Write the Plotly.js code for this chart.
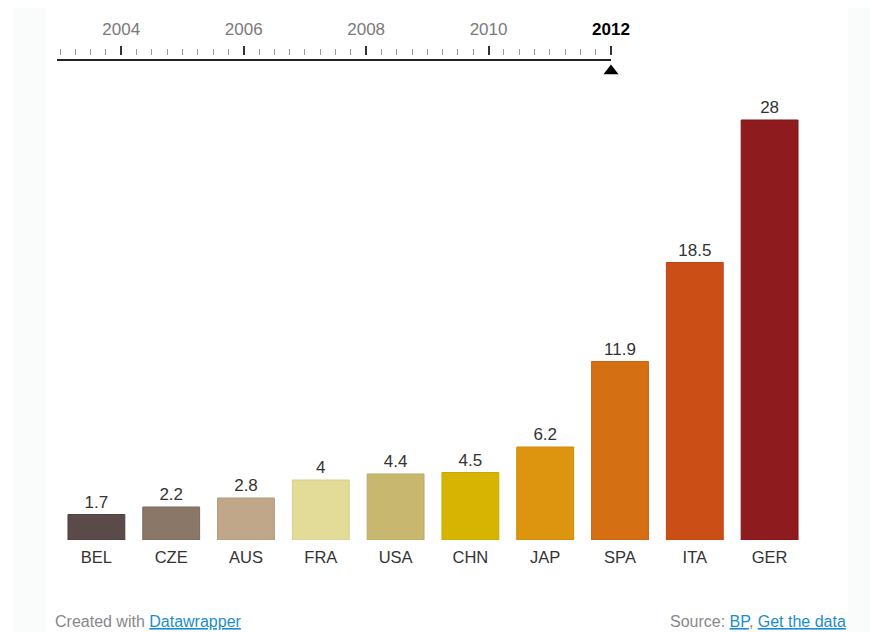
<!DOCTYPE html>
<html>
<head>
<meta charset="utf-8">
<script src="https://cdn.plot.ly/plotly-3.0.1.min.js"></script>
<style>
  html, body { margin: 0; padding: 0; background: #ffffff; }
  #bandL { position: absolute; left: 13px; top: 8px; width: 33px; height: 624px; background: #fafbfb; }
  #bandR { position: absolute; left: 848px; top: 8px; width: 22px; height: 624px; background: #fafbfb; }
  #chart { position: absolute; left: 0; top: 0; width: 870px; height: 632px; }
</style>
</head>
<body>
<div id="bandL"></div>
<div id="bandR"></div>
<div id="chart"></div>
<script>
// ---- data ----
const countries = ["BEL", "CZE", "AUS", "FRA", "USA", "CHN", "JAP", "SPA", "ITA", "GER"];
const values2012 = [1.7, 2.2, 2.8, 4, 4.4, 4.5, 6.2, 11.9, 18.5, 28];
const barColors = ["#5a4a4a", "#8a7767", "#c0a789", "#e3db98", "#c8b86f", "#d7b302", "#dd940f", "#d56f13", "#cc4e17", "#8e1b1e"];
const barLines  = ["#4e4040", "#7c6b5c", "#b39a7c", "#d6ce8a", "#bbab63", "#c9a600", "#d08809", "#c8640e", "#bf4412", "#7f1518"];
const years = [2004, 2006, 2008, 2010, 2012];
const yearLabels = ["2004", "2006", "2008", "2010", "2012"];
const timelineRange = [2002.95, 2012];
const selectedYear = 2012;

const fontFam = '"Liberation Sans", Arial, Helvetica, sans-serif';

const bars = {
  type: "bar",
  x: countries,
  y: values2012,
  text: values2012.map(String),
  textposition: "outside",
  textfont: { family: fontFam, size: 17, color: "#333333" },
  cliponaxis: false,
  marker: { color: barColors, line: { color: barLines, width: 1 } },
  hoverinfo: "x+y",
  xaxis: "x",
  yaxis: "y"
};

// invisible carrier so the timeline tick axis is drawn
const timelineTicks = {
  type: "scatter",
  mode: "markers",
  x: years,
  y: years.map(function () { return 0.5; }),
  xaxis: "x2",
  yaxis: "y2",
  marker: { opacity: 0, size: 1 },
  hoverinfo: "skip"
};

const marker = {
  type: "scatter",
  mode: "markers",
  x: [selectedYear],
  y: [0.56],
  xaxis: "x3",
  yaxis: "y3",
  marker: { symbol: "triangle-up", size: 13, color: "#000000" },
  cliponaxis: false,
  hoverinfo: "skip"
};

const tickText = yearLabels.map(function (t, i) {
  return years[i] === selectedYear
    ? '<b><span style="color:#000000">' + t + '</span></b>'
    : t;
});

const layout = {
  width: 870,
  height: 632,
  margin: { l: 50, r: 55, t: 0, b: 92 },
  paper_bgcolor: "rgba(0,0,0,0)",
  plot_bgcolor: "rgba(0,0,0,0)",
  showlegend: false,
  bargap: 0.24,
  font: { family: fontFam, color: "#333333" },
  xaxis: {
    domain: [0.01176, 0.98954],
    anchor: "y",
    showline: false, ticks: "", showgrid: false, zeroline: false,
    ticklabelstandoff: 5,
    tickfont: { family: fontFam, size: 16.5, color: "#333333" },
    fixedrange: true
  },
  yaxis: {
    domain: [0, 0.83333],
    range: [0, 30],
    visible: false,
    showgrid: false, zeroline: false,
    fixedrange: true
  },
  xaxis2: {
    domain: [0.00915, 0.73333],
    range: timelineRange,
    anchor: "y2",
    side: "top",
    showline: false, showgrid: false, zeroline: false,
    tickmode: "array",
    tickvals: years,
    ticktext: tickText,
    ticks: "outside",
    ticklen: 9,
    tickwidth: 2,
    tickcolor: "#333333",
    ticklabelstandoff: 4,
    tickfont: { family: fontFam, size: 17, color: "#7a7a7a" },
    minor: { tick0: 2003, dtick: 0.25, ticks: "outside", ticklen: 6, tickwidth: 1, tickcolor: "#9a9a9a", showgrid: false },
    fixedrange: true
  },
  yaxis2: {
    domain: [0.88704, 0.89630],
    range: [0, 1],
    visible: false,
    fixedrange: true
  },
  xaxis3: {
    domain: [0.00915, 0.73333],
    range: timelineRange,
    anchor: "y3",
    side: "top",
    showline: true, linecolor: "#222222", linewidth: 2,
    showticklabels: false, ticks: "", showgrid: false, zeroline: false,
    fixedrange: true
  },
  yaxis3: {
    domain: [0.84444, 0.88704],
    range: [0, 1],
    visible: false,
    fixedrange: true
  },
  annotations: [
    {
      xref: "paper", yref: "paper", x: 0.0039, y: -0.15,
      xanchor: "left", yanchor: "middle", showarrow: false,
      text: 'Created with <span style="color:#1a8dcf;text-decoration:underline">Datawrapper</span>',
      font: { family: fontFam, size: 16, color: "#888888" }
    },
    {
      xref: "paper", yref: "paper", x: 1.0431, y: -0.15,
      xanchor: "right", yanchor: "middle", showarrow: false,
      text: 'Source: <span style="color:#1a8dcf;text-decoration:underline">BP</span>, <span style="color:#1a8dcf;text-decoration:underline">Get the data</span>',
      font: { family: fontFam, size: 16, color: "#888888" }
    }
  ]
};

Plotly.newPlot("chart", [bars, timelineTicks, marker], layout, { displayModeBar: false, responsive: false });
</script>
</body>
</html>
